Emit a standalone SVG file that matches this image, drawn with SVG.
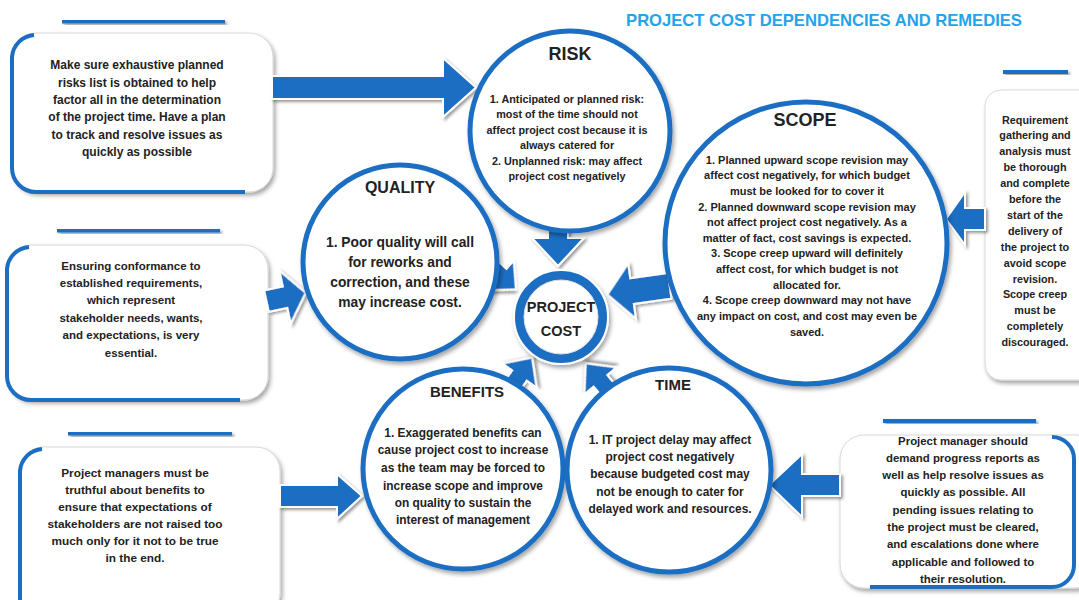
<svg xmlns="http://www.w3.org/2000/svg" width="1079" height="600" viewBox="0 0 1079 600">
<defs>
<filter id="sh" x="-20%" y="-20%" width="140%" height="140%">
<feDropShadow dx="2" dy="3" stdDeviation="2" flood-color="#000" flood-opacity="0.35"/>
</filter>
<filter id="sh2" x="-20%" y="-20%" width="140%" height="140%">
<feDropShadow dx="2" dy="2" stdDeviation="1.5" flood-color="#000" flood-opacity="0.4"/>
</filter>
<style>
text{font-family:"Liberation Sans",Arial,sans-serif;font-weight:bold;text-anchor:middle;fill:#222}
.title{fill:#22a3ea;font-size:16.6px}
.circ{fill:#fff;stroke:#1b6ec2;stroke-width:5;filter:url(#sh)}
.box{fill:#fff;stroke:#d8d8d8;stroke-width:1;filter:url(#sh)}
.edge{fill:none;stroke:#1b6ec2;stroke-width:4}
.bar{fill:#1b6ec2;filter:url(#sh2)}
.arr{fill:#1b6ec2;stroke:#fff;stroke-width:2;filter:url(#sh2)}
</style>
</defs>
<rect width="1079" height="600" fill="#fff"/>
<text class="title" x="824" y="26">PROJECT COST DEPENDENCIES AND REMEDIES</text>

<g id="box-risk">
<rect class="bar" x="62" y="20" width="163" height="3.5"/>
<rect class="box" x="12" y="33" width="261" height="159" rx="24"/>
<path class="edge" d="M34,35 A24 24 0 0 0 12 57 L12 168 A24 24 0 0 0 36 192 L245 192"/>
<g font-size="12px">
<text x="137" y="69">Make sure exhaustive planned</text>
<text x="137" y="86.5">risks list is obtained to help</text>
<text x="137" y="103.5">factor all in the determination</text>
<text x="137" y="121">of the project time. Have a plan</text>
<text x="137" y="138.5">to track and resolve issues as</text>
<text x="137" y="156">quickly as possible</text>
</g>
</g>

<g id="box-quality">
<rect class="bar" x="57" y="229" width="163" height="3.5"/>
<rect class="box" x="7" y="245" width="261" height="155" rx="24"/>
<path class="edge" d="M29,247 A24 24 0 0 0 7 269 L7 376 A24 24 0 0 0 31 400 L240 400"/>
<g font-size="11.5px">
<text x="131" y="270">Ensuring conformance to</text>
<text x="131" y="287">established requirements,</text>
<text x="131" y="304">which represent</text>
<text x="131" y="321.5">stakeholder needs, wants,</text>
<text x="131" y="339">and expectations, is very</text>
<text x="131" y="357">essential.</text>
</g>
</g>

<g id="box-benefits">
<rect class="bar" x="68" y="432" width="164" height="3.5"/>
<rect class="box" x="20" y="447" width="260" height="170" rx="24"/>
<path class="edge" d="M42,449 A24 24 0 0 0 20 471 L20 600"/>
<g font-size="11.8px">
<text x="135" y="477">Project managers must be</text>
<text x="135" y="493.5">truthful about benefits to</text>
<text x="135" y="510.5">ensure that expectations of</text>
<text x="135" y="528">stakeholders are not raised too</text>
<text x="135" y="545">much only for it not to be true</text>
<text x="135" y="561.5">in the end.</text>
</g>
</g>

<g id="box-time">
<rect class="bar" x="883" y="419" width="153" height="4"/>
<rect class="box" x="840" y="435" width="260" height="153" rx="24"/>
<path class="edge" d="M1052,437 A22 22 0 0 1 1074 459 L1074 565 A22 22 0 0 1 1052 587 L870 587"/>
<g font-size="11.4px">
<text x="963" y="444.5">Project manager should</text>
<text x="963" y="461.8">demand progress reports as</text>
<text x="963" y="479.1">well as help resolve issues as</text>
<text x="963" y="496.4">quickly as possible. All</text>
<text x="963" y="513.7">pending issues relating to</text>
<text x="963" y="531">the project must be cleared,</text>
<text x="963" y="548.3">and escalations done where</text>
<text x="963" y="565.6">applicable and followed to</text>
<text x="963" y="582.9">their resolution.</text>
</g>
</g>

<g id="box-scope">
<rect class="bar" x="1003" y="70" width="65" height="4"/>
<rect class="box" x="985" y="90" width="120" height="290" rx="16"/>
<g font-size="10.8px">
<text x="1035" y="123.5">Requirement</text>
<text x="1035" y="139.4">gathering and</text>
<text x="1035" y="155.3">analysis must</text>
<text x="1035" y="171.2">be thorough</text>
<text x="1035" y="187.1">and complete</text>
<text x="1035" y="203">before the</text>
<text x="1035" y="218.9">start of the</text>
<text x="1035" y="234.8">delivery of</text>
<text x="1035" y="250.7">the project to</text>
<text x="1035" y="266.6">avoid scope</text>
<text x="1035" y="282.5">revision.</text>
<text x="1035" y="298.4">Scope creep</text>
<text x="1035" y="314.3">must be</text>
<text x="1035" y="330.2">completely</text>
<text x="1035" y="346.1">discouraged.</text>
</g>
</g>

<g id="connectors">
<path class="arr" d="M272,76 L443,76 L443,58 L476,87.5 L443,117 L443,99 L272,99 Z"/>
<path class="arr" transform="rotate(-12 286 297)" d="M266,286 L285,286 L285,270 L306,297 L285,324 L285,308 L266,308 Z"/>
<path class="arr" d="M280,485 L337,485 L337,474 L362,496 L337,519 L337,507 L280,507 Z"/>
<path class="arr" d="M840,474 L802,474 L802,454 L769,485 L802,517 L802,496 L840,496 Z"/>
<path class="arr" d="M985,208 L965,208 L965,192 L946,219 L965,245 L965,230 L985,230 Z"/>
<path class="arr" d="M548,222 L568,222 L568,238 L584,238 L558,266 L532,238 L548,238 Z"/>
<path class="arr" transform="rotate(-8 640 290)" d="M670,277 L632,277 L632,262 L607,290 L632,318 L632,303 L670,303 Z"/>
<path class="arr" transform="translate(490,266) rotate(42)" d="M0,-9 L14,-9 L14,-20 L35,0 L14,20 L14,9 L0,9 Z"/>
<path class="arr" transform="translate(508,392) rotate(-55)" d="M0,-9 L20,-9 L20,-21 L42,0 L20,21 L20,9 L0,9 Z"/>
<path class="arr" transform="translate(614,397) rotate(-130)" d="M0,-9 L21,-9 L21,-21 L44,0 L21,21 L21,9 L0,9 Z"/>
</g>

<g id="risk">
<circle class="circ" cx="570" cy="131" r="100"/>
<text x="570" y="60" font-size="18px">RISK</text>
<g font-size="10.8px">
<text x="567" y="102.5">1. Anticipated or planned risk:</text>
<text x="567" y="117.5">most of the time should not</text>
<text x="567" y="133.5">affect project cost because it is</text>
<text x="567" y="148.5">always catered for</text>
<text x="567" y="164.5">2. Unplanned risk: may affect</text>
<text x="567" y="179.5">project cost negatively</text>
</g>
</g>

<g id="scope">
<circle class="circ" cx="806" cy="243" r="141"/>
<text x="805" y="126" font-size="18px">SCOPE</text>
<g font-size="11px">
<text x="807" y="163.5">1. Planned upward scope revision may</text>
<text x="807" y="179.2">affect cost negatively, for which budget</text>
<text x="807" y="194.8">must be looked for to cover it</text>
<text x="807" y="210.5">2. Planned downward scope revision may</text>
<text x="807" y="226.1">not affect project cost negatively. As a</text>
<text x="807" y="241.8">matter of fact, cost savings is expected.</text>
<text x="807" y="257.4">3. Scope creep upward will definitely</text>
<text x="807" y="273.1">affect cost, for which budget is not</text>
<text x="807" y="288.7">allocated for.</text>
<text x="807" y="304.4">4. Scope creep downward may not have</text>
<text x="807" y="320">any impact on cost, and cost may even be</text>
<text x="807" y="335.7">saved.</text>
</g>
</g>

<g id="quality">
<circle class="circ" cx="400" cy="262" r="97"/>
<text x="400" y="193" font-size="16px">QUALITY</text>
<g font-size="13.8px">
<text x="400" y="247">1. Poor quality will call</text>
<text x="400" y="267">for reworks and</text>
<text x="400" y="287">correction, and these</text>
<text x="400" y="307">may increase cost.</text>
</g>
</g>

<g id="benefits">
<circle class="circ" cx="463" cy="469" r="100"/>
<text x="467" y="397" font-size="15px">BENEFITS</text>
<g font-size="11.9px">
<text x="463" y="436.5">1. Exaggerated benefits can</text>
<text x="463" y="454">cause project cost to increase</text>
<text x="463" y="471.5">as the team may be forced to</text>
<text x="463" y="489.5">increase scope and improve</text>
<text x="463" y="506.5">on quality to sustain the</text>
<text x="463" y="523.5">interest of management</text>
</g>
</g>

<g id="time">
<circle class="circ" cx="669" cy="470" r="102"/>
<text x="673" y="390" font-size="15px">TIME</text>
<g font-size="11.9px">
<text x="670" y="444">1. IT project delay may affect</text>
<text x="670" y="461">project cost negatively</text>
<text x="670" y="478">because budgeted cost may</text>
<text x="670" y="496">not be enough to cater for</text>
<text x="670" y="513">delayed work and resources.</text>
</g>
</g>

<g id="project-cost">
<circle cx="561" cy="317" r="47" fill="#1b6ec2" stroke="#fff" stroke-width="2" filter="url(#sh)"/>
<circle cx="561" cy="317" r="37" fill="#fff" stroke="#e0e0e0" stroke-width="1"/>
<text x="561" y="312" font-size="14.5px">PROJECT</text>
<text x="561" y="336" font-size="14.5px">COST</text>
</g>
</svg>
